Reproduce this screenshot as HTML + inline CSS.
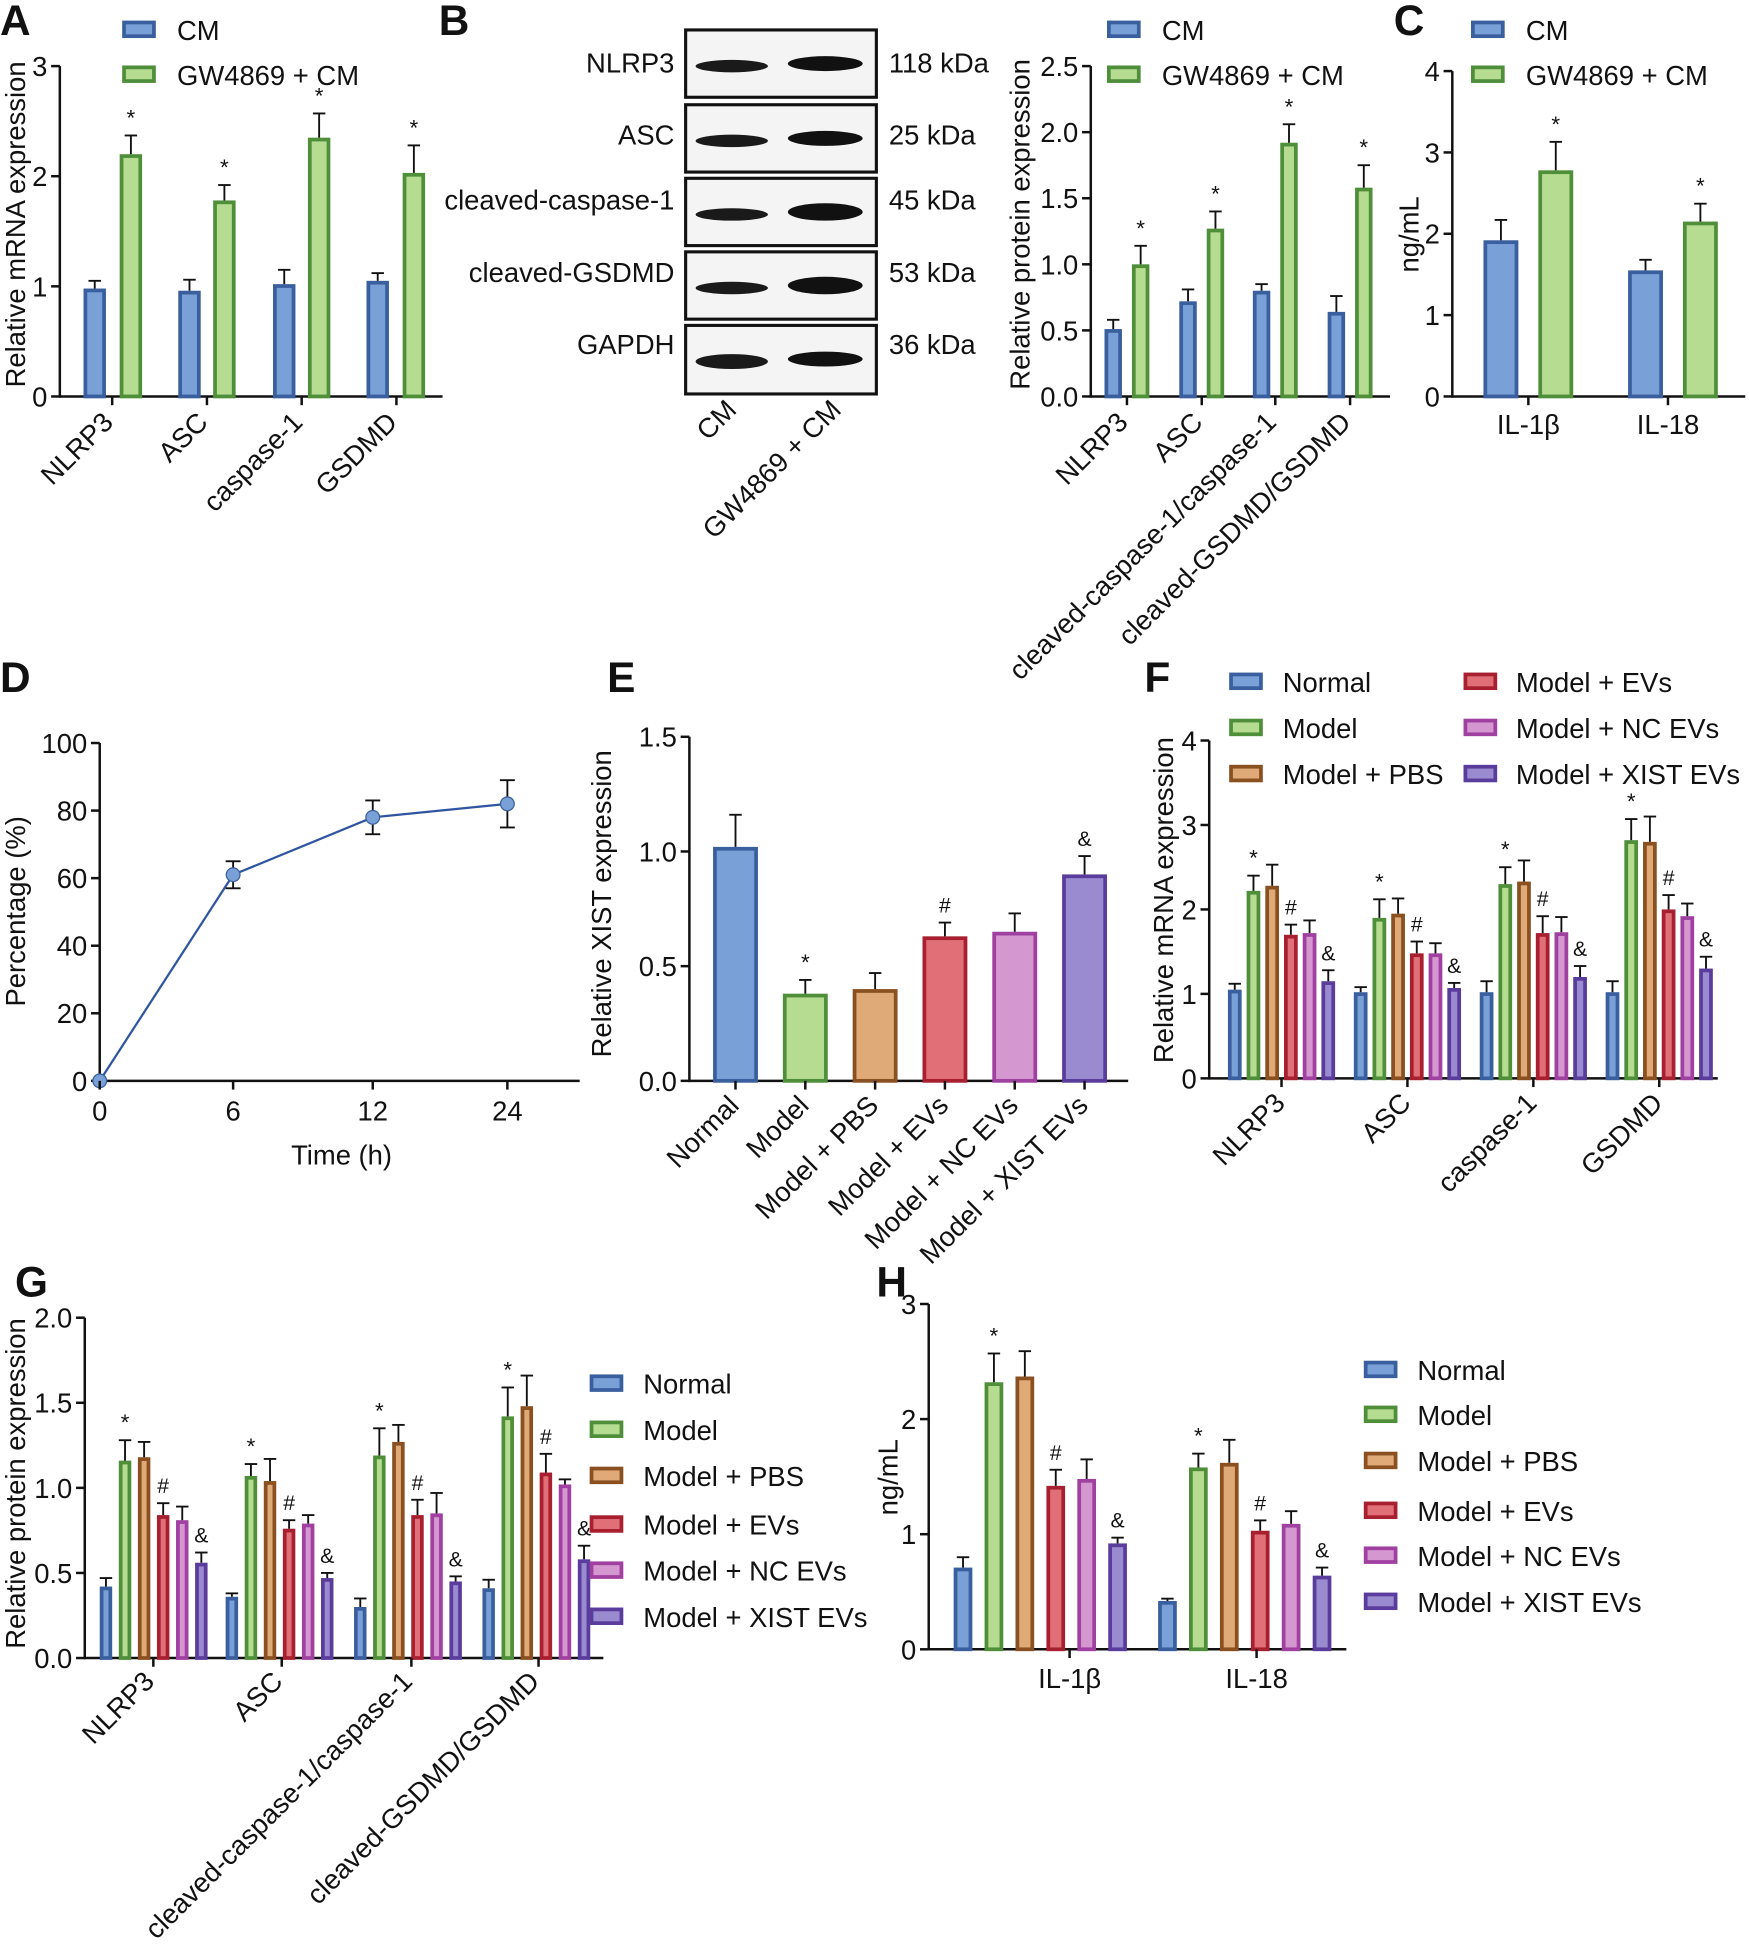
<!DOCTYPE html>
<html><head><meta charset="utf-8"><style>
html,body{margin:0;padding:0;background:#fff;}
svg{display:block;}
text{font-family:"Liberation Sans",Arial,sans-serif;fill:#111;}
</style></head><body>
<svg id="s" width="1749" height="1956" viewBox="0 0 1403 1569" xmlns="http://www.w3.org/2000/svg"></svg>
<script>
const S=document.getElementById('s');let h='';
const C={b:['#7aa0d8','#3a5f9e'],g:['#b5dc90','#4f8f3a'],o:['#e0aa78','#8a5020'],r:['#e06f78','#a82030'],p:['#d497cf','#a040a0'],u:['#9a8ad0','#5a3c9c']};
function T(x,y,t,sz,anc,rot,w){h+=`<text x="${x}" y="${y}" font-size="${sz||22}" text-anchor="${anc||'start'}"${rot!=null?` transform="rotate(${rot} ${x} ${y})"`:''}${w?` font-weight="bold"`:''}>${t}</text>`;}
function L(x1,y1,x2,y2,sw){h+=`<line x1="${x1}" y1="${y1}" x2="${x2}" y2="${y2}" stroke="#111" stroke-width="${sw||2}"/>`;}
function axisY(x,y0,y1,ticks,xend){L(x,y0+1,x,y1);L(x,y0,xend,y0);ticks.forEach((t,i)=>{const y=y0+(y1-y0)*i/(ticks.length-1);L(x-7,y,x,y);T(x-10,y+8,t,22,'end');});}
function bar(x,w,y0,ppu,v,e,c,mark){const y=y0-v*ppu;h+=`<rect x="${x+1.5}" y="${y+1.5}" width="${w-3}" height="${v*ppu-1.5}" fill="${C[c][0]}" stroke="${C[c][1]}" stroke-width="3"/>`;if(e){const ye=y-e*ppu;L(x+w/2,y,x+w/2,ye,1.5);L(x+w/2-5,ye,x+w/2+5,ye,1.5);if(mark)T(x+w/2,ye-8,mark,mark=='*'?18:17,'middle');}}
function sw(x,y,c){h+=`<rect x="${x+1.5}" y="${y-6}" width="24" height="11" fill="${C[c][0]}" stroke="${C[c][1]}" stroke-width="3"/>`;}
[['A',0,28],['B',352,28],['C',1118,28],['D',0,555],['E',487,555],['F',918,555],['G',12,1040],['H',703,1040]].forEach(a=>T(a[1],a[2],a[0],34,'start',null,1));
// A
axisY(48,318,53,['0','1','2','3'],355);
let ppu=(318-53)/3;
[[67,.98,.07],[143,.96,.1],[219,1.02,.13],[294,1.05,.07]].forEach(b=>bar(b[0],18,318,ppu,b[1],b[2],'b'));
[[96,2.2,.17],[171,1.78,.14],[247,2.35,.22],[323,2.03,.25]].forEach(b=>bar(b[0],18,318,ppu,b[1],b[2],'g','*'));
[[90,'NLRP3'],[166,'ASC'],[242,'caspase-1'],[318,'GSDMD']].forEach(a=>{L(a[0],318,a[0],325);T(a[0]+2,340,a[1],22,'end',-45);});
sw(98,24,'b');T(142,32,'CM');sw(98,60,'g');T(142,68,'GW4869 + CM');
T(20,180,'Relative mRNA expression',22,'middle',-90);
// B blot
[[24,'NLRP3','118 kDa',50],[84,'ASC','25 kDa',108],[143,'cleaved-caspase-1','45 kDa',160],[202,'cleaved-GSDMD','53 kDa',218],[261,'GAPDH','36 kDa',276]].forEach((r,i)=>{
h+=`<rect x="550" y="${r[0]}" width="153" height="${i==4?55:54}" fill="#f4f4f4" stroke="#111" stroke-width="2.5"/>`;
const cy=r[0]+27;const t1=[5,5,5,5,6][i],t2=[6,6,7,7,6][i];
h+=`<ellipse cx="587" cy="${cy+2}" rx="29" ry="${t1}" fill="#1a1a1a"/><ellipse cx="662" cy="${cy}" rx="30" ry="${t2}" fill="#111"/>`;
T(541,r[3]+8,r[1],22,'end');T(713,r[3]+8,r[2]);});
T(592,330,'CM',22,'end',-45);T(676,330,'GW4869 + CM',22,'end',-45);
// B chart
axisY(875,318,53,['0.0','0.5','1.0','1.5','2.0','2.5'],1115);ppu=(318-53)/2.5;
[[886,.51,.07],[946,.72,.09],[1005,.8,.05],[1065,.64,.12]].forEach(b=>bar(b[0],14,318,ppu,b[1],b[2],'b'));
[[908,1.0,.14],[968,1.27,.13],[1027,1.92,.14],[1087,1.58,.17]].forEach(b=>bar(b[0],14,318,ppu,b[1],b[2],'g','*'));
[[904,'NLRP3'],[964,'ASC'],[1023,'cleaved-caspase-1/caspase-1'],[1083,'cleaved-GSDMD/GSDMD']].forEach(a=>{L(a[0],318,a[0],325);T(a[0]+2,340,a[1],22,'end',-45);});
sw(888,24,'b');T(932,32,'CM');sw(888,60,'g');T(932,68,'GW4869 + CM');
T(826,180,'Relative protein expression',22,'middle',-90);
// C
axisY(1165,318,57,['0','1','2','3','4'],1400);ppu=(318-57)/4;
bar(1190,28,318,ppu,1.92,.25,'b');bar(1234,28,318,ppu,2.78,.35,'g','*');bar(1306,28,318,ppu,1.55,.13,'b');bar(1350,28,318,ppu,2.15,.22,'g','*');
[[1226,'IL-1β'],[1338,'IL-18']].forEach(a=>{L(a[0],318,a[0],325);T(a[0],348,a[1],22,'middle');});
sw(1180,24,'b');T(1224,32,'CM');sw(1180,60,'g');T(1224,68,'GW4869 + CM');
T(1138,188,'ng/mL',22,'middle',-90);
// D
axisY(80,867,596,['0','20','40','60','80','100'],465);ppu=(867-596)/100;
let pts=[[80,0,0],[187,61,4],[299,78,5],[407,82,7]];
h+=`<polyline points="${pts.map(p=>p[0]+','+(867-p[1]*ppu)).join(' ')}" fill="none" stroke="#2f55a0" stroke-width="1.8"/>`;
pts.forEach(p=>{const y=867-p[1]*ppu;if(p[2]){L(p[0],y-p[2]*ppu,p[0],y+p[2]*ppu,1.5);L(p[0]-6,y-p[2]*ppu,p[0]+6,y-p[2]*ppu,1.5);L(p[0]-6,y+p[2]*ppu,p[0]+6,y+p[2]*ppu,1.5);}h+=`<circle cx="${p[0]}" cy="${y}" r="5.5" fill="#7aa0d8" stroke="#3a5f9e" stroke-width="1"/>`;});
[[80,'0'],[187,'6'],[299,'12'],[407,'24']].forEach(a=>{L(a[0],867,a[0],874);T(a[0],899,a[1],22,'middle');});
T(274,934,'Time (h)',22,'middle');T(20,731,'Percentage (%)',22,'middle',-90);
// E
axisY(553,867,591,['0.0','0.5','1.0','1.5'],905);ppu=(867-591)/1.5;
[[572,1.02,.14,'b',''],[628,.38,.06,'g','*'],[684,.4,.07,'o',''],[740,.63,.06,'r','#'],[796,.65,.08,'p',''],[852,.9,.08,'u','&amp;']].forEach(b=>bar(b[0],36,867,ppu,b[1],b[2],b[3],b[4]||null));
[[590,'Normal'],[646,'Model'],[702,'Model + PBS'],[758,'Model + EVs'],[814,'Model + NC EVs'],[870,'Model + XIST EVs']].forEach(a=>{L(a[0],867,a[0],874);T(a[0]+4,888,a[1],22,'end',-45);});
T(490,725,'Relative XIST expression',22,'middle',-90);
const cs=['b','g','o','r','p','u'],mk=[null,'*',null,'#',null,'&amp;'];
function grp(x0,w,step,y0,ppu,vals,errs){vals.forEach((v,i)=>bar(x0+i*step,w,y0,ppu,v,errs[i],cs[i],mk[i]));}
// F
axisY(970,865,594,['0','1','2','3','4'],1378);ppu=(865-594)/4;
grp(985,11,15,865,ppu,[1.05,2.22,2.28,1.7,1.72,1.15],[.07,.18,.25,.12,.15,.13]);
grp(1086,11,15,865,ppu,[1.02,1.9,1.95,1.48,1.48,1.07],[.06,.22,.18,.14,.12,.06]);
grp(1187,11,15,865,ppu,[1.02,2.3,2.33,1.72,1.73,1.2],[.13,.2,.25,.2,.18,.13]);
grp(1288,11,15,865,ppu,[1.02,2.82,2.8,2.0,1.92,1.3],[.13,.25,.3,.17,.15,.14]);
[[1028,'NLRP3'],[1129,'ASC'],[1230,'caspase-1'],[1331,'GSDMD']].forEach(a=>{L(a[0],865,a[0],872);T(a[0]+4,886,a[1],22,'end',-45);});
[['b','Normal'],['g','Model'],['o','Model + PBS']].forEach((l,i)=>{sw(986,547+37*i,l[0]);T(1029,555+37*i,l[1]);});
[['r','Model + EVs'],['p','Model + NC EVs'],['u','Model + XIST EVs']].forEach((l,i)=>{sw(1174,547+37*i,l[0]);T(1216,555+37*i,l[1]);});
T(941,722,'Relative mRNA expression',22,'middle',-90);
// G
axisY(68,1330,1057,['0.0','0.5','1.0','1.5','2.0'],484);ppu=(1330-1057)/2;
grp(80,10,15.3,1330,ppu,[.42,1.16,1.18,.84,.81,.56],[.05,.12,.09,.07,.08,.06]);
grp(181,10,15.3,1330,ppu,[.36,1.07,1.04,.76,.79,.47],[.02,.07,.13,.05,.05,.03]);
grp(284,10,15.3,1330,ppu,[.3,1.19,1.27,.84,.85,.45],[.05,.16,.1,.09,.12,.03]);
grp(387,10,15.3,1330,ppu,[.41,1.42,1.48,1.09,1.02,.58],[.05,.17,.18,.11,.03,.08]);
[[123,'NLRP3'],[226,'ASC'],[330,'cleaved-caspase-1/caspase-1'],[432,'cleaved-GSDMD/GSDMD']].forEach(a=>{L(a[0],1330,a[0],1337);T(a[0]+2,1350,a[1],22,'end',-45);});
[['b','Normal'],['g','Model'],['o','Model + PBS'],['r','Model + EVs'],['p','Model + NC EVs'],['u','Model + XIST EVs']].forEach((l,i)=>{const y=[1110,1147,1184,1223,1260,1297][i];sw(473,y,l[0]);T(516,y+8,l[1]);});
T(20,1190,'Relative protein expression',22,'middle',-90);
// H
axisY(745,1323,1046,['0','1','2','3'],1080);ppu=(1323-1046)/3;
grp(765,15,24.8,1323,ppu,[.71,2.32,2.37,1.42,1.48,.92],[.09,.25,.22,.14,.17,.05]);
grp(929,15,24.8,1323,ppu,[.42,1.58,1.62,1.03,1.09,.64],[.02,.12,.2,.09,.11,.07]);
[[858,'IL-1β'],[1008,'IL-18']].forEach(a=>{L(a[0],1323,a[0],1330);T(a[0],1354,a[1],22,'middle');});
[['b','Normal'],['g','Model'],['o','Model + PBS'],['r','Model + EVs'],['p','Model + NC EVs'],['u','Model + XIST EVs']].forEach((l,i)=>{const y=[1099,1135,1172,1212,1248,1285][i];sw(1094,y,l[0]);T(1137,y+8,l[1]);});
T(720,1185,'ng/mL',22,'middle',-90);
S.innerHTML=h;
</script>
</body></html>
